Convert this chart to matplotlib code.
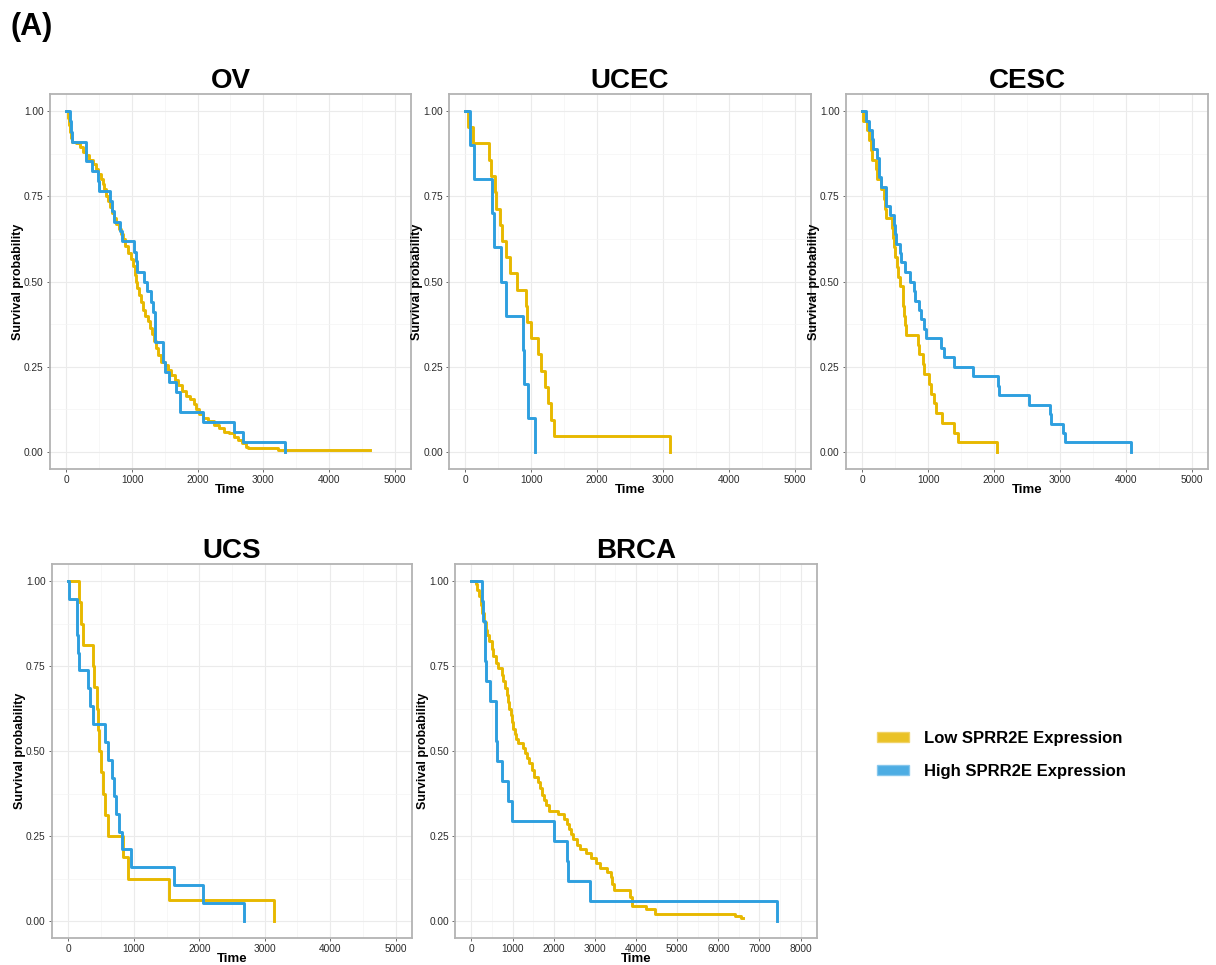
import matplotlib
matplotlib.use("Agg")
import matplotlib.pyplot as plt
from matplotlib.patches import Patch
from matplotlib.ticker import MultipleLocator, FormatStrFormatter

plt.rcParams['font.family'] = ['Liberation Sans', 'DejaVu Sans']

LOW_COLOR = '#E7B800'
HIGH_COLOR = '#2E9FDF'

# ---- data (time, survival) ----
ov_high_t = [0, 50, 70, 90, 295, 300, 395, 480, 495, 670, 690, 720, 820, 840, 1030, 1060,
             1076, 1178, 1234, 1284, 1320, 1355, 1472, 1508, 1558, 1675, 1726, 2081, 2553, 2690, 3335]
ov_high_s = [1.0, 0.97, 0.94, 0.91, 0.882, 0.853, 0.824, 0.794, 0.765, 0.735, 0.706, 0.676, 0.647,
             0.618, 0.588, 0.559, 0.529, 0.50, 0.471, 0.441, 0.412, 0.324, 0.265, 0.235, 0.206,
             0.176, 0.118, 0.088, 0.059, 0.029, 0.0]
ov_low_t = [0, 20, 35, 50, 70, 90, 150, 200, 250, 300, 350, 400, 450, 480, 520, 550, 580, 600,
            630, 660, 690, 720, 760, 800, 830, 860, 900, 940, 980, 1010, 1040, 1060, 1080, 1100,
            1130, 1160, 1200, 1240, 1280, 1310, 1340, 1370, 1400, 1440, 1500, 1550, 1600, 1650,
            1700, 1760, 1820, 1880, 1940, 1980, 2020, 2080, 2150, 2250, 2320, 2400, 2480, 2560,
            2620, 2680, 2730, 2760, 3230, 4630]
ov_low_s = [1.0, 0.98, 0.96, 0.94, 0.92, 0.91, 0.905, 0.895, 0.88, 0.87, 0.855, 0.845, 0.83,
            0.815, 0.80, 0.785, 0.77, 0.75, 0.735, 0.72, 0.70, 0.685, 0.67, 0.655, 0.64, 0.625,
            0.605, 0.585, 0.565, 0.545, 0.52, 0.50, 0.48, 0.46, 0.44, 0.415, 0.40, 0.385, 0.365,
            0.345, 0.325, 0.305, 0.285, 0.265, 0.255, 0.24, 0.225, 0.21, 0.195, 0.18, 0.165,
            0.155, 0.14, 0.125, 0.11, 0.10, 0.09, 0.08, 0.07, 0.06, 0.055, 0.045, 0.035, 0.025,
            0.015, 0.012, 0.007, 0.007]

ucec_high_t = [0, 75, 127, 407, 432, 534, 620, 875, 890, 951, 1053]
ucec_high_s = [1.0, 0.9, 0.8, 0.7, 0.6, 0.5, 0.4, 0.3, 0.2, 0.1, 0.0]
ucec_low_t = [0, 35, 117, 356, 381, 443, 458, 519, 560, 620, 676, 788, 916, 941, 992, 1104,
              1144, 1205, 1256, 1307, 1338, 3103]
ucec_low_s = [1.0, 0.952, 0.905, 0.857, 0.810, 0.762, 0.714, 0.667, 0.619, 0.571, 0.524, 0.476,
              0.429, 0.381, 0.333, 0.286, 0.238, 0.190, 0.143, 0.095, 0.048, 0.0]

cesc_high_t = [0, 51, 102, 142, 162, 228, 244, 254, 279, 355, 365, 416, 482, 492, 508, 569, 584,
               650, 721, 787, 802, 853, 888, 939, 964, 1193, 1244, 1386, 1685, 2061, 2081, 2528,
               2853, 2868, 3046, 3071, 4086]
cesc_high_s = [1.0, 0.972, 0.944, 0.917, 0.889, 0.861, 0.833, 0.806, 0.778, 0.75, 0.722, 0.694,
               0.667, 0.639, 0.611, 0.583, 0.556, 0.528, 0.5, 0.472, 0.444, 0.417, 0.389, 0.361,
               0.333, 0.306, 0.278, 0.25, 0.222, 0.194, 0.167, 0.139, 0.111, 0.083, 0.056, 0.028, 0.0]
cesc_low_t = [0, 15, 76, 102, 127, 142, 203, 228, 279, 330, 345, 365, 447, 467, 482, 497, 523,
              543, 574, 609, 619, 635, 650, 660, 838, 853, 914, 939, 1015, 1041, 1081, 1117, 1208,
              1396, 1447, 2041]
cesc_low_s = [1.0, 0.971, 0.943, 0.914, 0.886, 0.857, 0.829, 0.80, 0.771, 0.743, 0.714, 0.686,
              0.657, 0.629, 0.60, 0.571, 0.543, 0.514, 0.486, 0.457, 0.429, 0.40, 0.371, 0.343,
              0.314, 0.286, 0.257, 0.229, 0.20, 0.171, 0.143, 0.114, 0.086, 0.057, 0.029, 0.0]

ucs_high_t = [0, 15, 128, 138, 153, 168, 306, 332, 372, 561, 602, 673, 699, 724, 781, 827, 959,
              1607, 2051, 2689]
ucs_high_s = [1.0, 0.947, 0.895, 0.842, 0.789, 0.737, 0.684, 0.632, 0.579, 0.526, 0.474, 0.421,
              0.368, 0.316, 0.263, 0.211, 0.158, 0.105, 0.053, 0.0]
ucs_low_t = [0, 163, 189, 219, 383, 393, 434, 459, 464, 500, 536, 561, 612, 842, 908, 1531, 3138]
ucs_low_s = [1.0, 0.9375, 0.875, 0.8125, 0.75, 0.6875, 0.625, 0.5625, 0.5, 0.4375, 0.375,
             0.3125, 0.25, 0.1875, 0.125, 0.0625, 0.0]

brca_high_t = [0, 267, 291, 332, 340, 348, 453, 591, 605, 632, 737, 891, 996, 2008, 2332, 2348,
               2874, 7433]
brca_high_s = [1.0, 0.941, 0.882, 0.824, 0.765, 0.706, 0.647, 0.588, 0.529, 0.471, 0.412, 0.353,
               0.294, 0.235, 0.176, 0.118, 0.059, 0.0]
brca_low_t = [0, 105, 146, 186, 227, 267, 300, 348, 372, 429, 510, 534, 591, 648, 753, 777, 810,
              858, 890, 915, 955, 990, 1020, 1050, 1077, 1142, 1255, 1296, 1344, 1401, 1466, 1522,
              1619, 1668, 1725, 1770, 1806, 1887, 2105, 2251, 2330, 2372, 2413, 2478, 2575, 2640,
              2794, 2899, 3020, 3126, 3304, 3385, 3425, 3466, 3846, 3911, 4235, 4453, 6405, 6543,
              6600]
brca_low_s = [1.0, 0.99, 0.975, 0.955, 0.93, 0.905, 0.88, 0.855, 0.84, 0.825, 0.80, 0.78, 0.76,
              0.745, 0.725, 0.705, 0.685, 0.665, 0.645, 0.625, 0.605, 0.585, 0.565, 0.55, 0.535,
              0.525, 0.51, 0.495, 0.48, 0.465, 0.445, 0.425, 0.41, 0.39, 0.37, 0.355, 0.34, 0.325,
              0.314, 0.30, 0.285, 0.27, 0.255, 0.24, 0.225, 0.213, 0.20, 0.185, 0.17, 0.155, 0.145,
              0.13, 0.11, 0.092, 0.07, 0.045, 0.036, 0.022, 0.015, 0.008, 0.008]

panels = [
    ('OV', ov_low_t, ov_low_s, ov_high_t, ov_high_s, 5000, (50, 94, 411, 469)),
    ('UCEC', ucec_low_t, ucec_low_s, ucec_high_t, ucec_high_s, 5000, (449, 94, 811, 469)),
    ('CESC', cesc_low_t, cesc_low_s, cesc_high_t, cesc_high_s, 5000, (846, 94, 1208, 469)),
    ('UCS', ucs_low_t, ucs_low_s, ucs_high_t, ucs_high_s, 5000, (52, 564, 412, 938)),
    ('BRCA', brca_low_t, brca_low_s, brca_high_t, brca_high_s, 8000, (455, 564, 817, 938)),
]

W, H = 1216, 965
fig = plt.figure(figsize=(W / 100, H / 100), dpi=100)

for name, lt, ls, ht, hs, xmax, (l, t, r, b) in panels:
    ax = fig.add_axes([l / W, 1 - b / H, (r - l) / W, (b - t) / H])
    ax.step(lt, ls, where='post', color=LOW_COLOR, lw=2.1)
    ax.step(ht, hs, where='post', color=HIGH_COLOR, lw=2.1)
    pad = xmax * 0.05
    ax.set_xlim(-pad, xmax + pad)
    ax.set_ylim(-0.05, 1.05)
    ax.xaxis.set_major_locator(MultipleLocator(1000))
    ax.xaxis.set_minor_locator(MultipleLocator(500))
    ax.yaxis.set_major_locator(MultipleLocator(0.25))
    ax.yaxis.set_minor_locator(MultipleLocator(0.125))
    ax.yaxis.set_major_formatter(FormatStrFormatter('%.2f'))
    ax.grid(which='major', color='#EBEBEB', lw=0.8)
    ax.grid(which='minor', color='#F4F4F4', lw=0.5)
    ax.set_axisbelow(True)
    for sp in ax.spines.values():
        sp.set_color('#B3B3B3')
        sp.set_linewidth(1.3)
    ax.tick_params(which='major', length=2.5, width=0.6, color='#555555',
                   labelsize=7.3, labelcolor='#2b2b2b', pad=2)
    ax.tick_params(which='minor', length=0)
    ax.set_xlabel('Time', fontsize=9.5, fontweight='bold', labelpad=-1)
    ax.set_ylabel('Survival probability', fontsize=9, fontweight='bold', labelpad=0)
    ax.set_title(name, fontsize=20, fontweight='bold', pad=2)

fig.text(10 / W, 1 - 12 / H, '(A)', fontsize=22, fontweight='bold', ha='left', va='top')

handles = [Patch(facecolor=LOW_COLOR, edgecolor='#F0D060', alpha=0.85, label='Low SPRR2E Expression'),
           Patch(facecolor=HIGH_COLOR, edgecolor='#80C4EC', alpha=0.85, label='High SPRR2E Expression')]
fig.legend(handles=handles, loc='center left', bbox_to_anchor=(869 / W, 1 - 755 / H),
           frameon=False, borderpad=0, handlelength=1.9, handleheight=0.55,
           handletextpad=0.9, labelspacing=1.1,
           prop={'weight': 'bold', 'size': 12})

fig.savefig('out.png', dpi=100)
